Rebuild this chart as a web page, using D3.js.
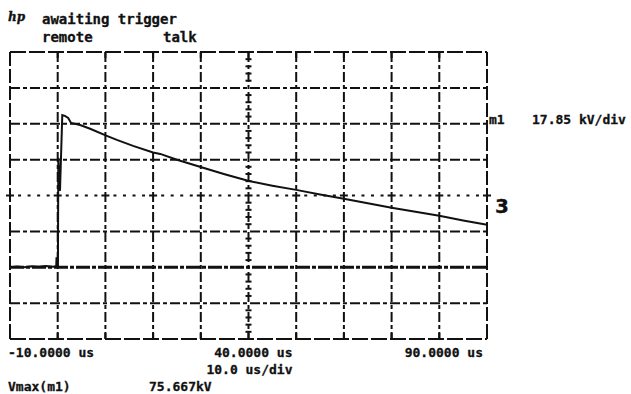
<!DOCTYPE html>
<html lang="en">
<head>
    <meta charset="UTF-8">
    <title>Scope capture</title>
    <script src="https://d3js.org/d3.v7.min.js"></script>
    <style>
        body { margin: 0; background: #fff; }
        svg { display: block; }
        text { font-family: "DejaVu Sans Mono", monospace; font-weight: bold; fill: #111; stroke: #111; stroke-width: 0.3px; }
    </style>
</head>
<body>
    <div id="chart"></div>
    <script>
        // waveform (time in us, voltage in kV)
        const timeUs = [-10, -8.5, -7, -5.5, -4, -2.5, -1, -0.3, -0.25, -0.2, 0.05, 0.13, 0.48, 0.96,
                        1.5, 2.2, 2.8, 4.7, 6.8, 10.3, 12.4, 15.8, 20, 21.5, 25, 29.8, 35, 39.9,
                        45, 50, 55, 60, 65, 70, 75, 80, 85, 90];
        const voltsKV = [0, 0.4, 0, 0.5, 0.2, 0.6, 0.3, 0.5, 5, 1, 1, 54.4, 38, 75.67,
                         75.3, 74.3, 71.8, 70.8, 68.9, 65.4, 63.4, 60.4, 57.1, 56.4, 53.5, 50.0, 46.3, 43.0,
                         40.6, 38.5, 36.2, 34.1, 31.8, 29.6, 27.6, 25.6, 23.3, 21.1];

        const timeTicks = [-10, 40, 90];
        const timeTickLabels = ["-10.0000 us", "40.0000 us", "90.0000 us"];
        const statusLines = ["awaiting trigger", "remote", "talk"];
        const channelLabel = ["m1", "17.85 kV/div"];
        const timebaseLabel = "10.0 us/div";
        const measureLabels = ["Vmax(m1)", "75.667kV"];

        const W = 631, H = 394;
        const voltsPerDiv = 17.85;
        const centerV = 2 * voltsPerDiv;

        const svg = d3.select("#chart").append("svg")
            .attr("width", W).attr("height", H);

        const x = d3.scaleLinear().domain([-10, 90]).range([10, 487]);
        const y = d3.scaleLinear()
            .domain([centerV - 4 * voltsPerDiv, centerV + 4 * voltsPerDiv])
            .range([339, 52]);

        const grid = svg.append("g").attr("stroke", "#111").attr("fill", "none");

        const xDivs = d3.range(-10, 91, 10);
        const yDivs = d3.range(0, 9).map(i => y.domain()[0] + i * voltsPerDiv);

        // vertical divisions
        xDivs.forEach((t, i) => {
            if (t === 40) return;
            grid.append("line")
                .attr("x1", x(t)).attr("x2", x(t))
                .attr("y1", y.range()[1]).attr("y2", y.range()[0])
                .attr("stroke-width", 2)
                .attr("stroke-dasharray", (i === 0 || i === 10) ? "14,3" : "10,3,4,3");
        });

        // horizontal divisions (row 4 is the centre axis, drawn below)
        yDivs.forEach((v, i) => {
            if (i === 4) return;
            const edge = (i === 0 || i === 8);
            grid.append("line")
                .attr("x1", x.range()[0]).attr("x2", x.range()[1])
                .attr("y1", y(v)).attr("y2", y(v))
                .attr("stroke-width", i === 2 ? 3 : 2)
                .attr("stroke-dasharray", edge ? "16,3" : (i === 2 ? "14,2,4,2" : "10,3,4,3"));
        });

        // ticks on top / bottom border
        xDivs.forEach(t => {
            grid.append("line").attr("x1", x(t)).attr("x2", x(t))
                .attr("y1", y.range()[1]).attr("y2", y.range()[1] + 6).attr("stroke-width", 2);
            grid.append("line").attr("x1", x(t)).attr("x2", x(t))
                .attr("y1", y.range()[0] - 6).attr("y2", y.range()[0]).attr("stroke-width", 2);
        });

        // centre vertical axis with cross ticks
        grid.append("line")
            .attr("x1", x(40)).attr("x2", x(40))
            .attr("y1", y.range()[1]).attr("y2", y.range()[0])
            .attr("stroke-width", 2)
            .attr("stroke-dasharray", "10,3,4,3");
        d3.range(0, 41).forEach(k => {
            if (k % 5 === 0) return;
            const v = y.domain()[0] + k * voltsPerDiv / 5;
            grid.append("line")
                .attr("x1", x(40) - 3).attr("x2", x(40) + 3)
                .attr("y1", y(v)).attr("y2", y(v))
                .attr("stroke-width", 2);
        });

        // centre horizontal axis: short dashes every 2 us
        d3.range(-10, 90.1, 2).forEach(t => {
            const full = (t + 10) % 10 === 0;
            grid.append("line")
                .attr("x1", x(t) - (full ? 4 : 1.5)).attr("x2", x(t) + (full ? 4 : 1.5))
                .attr("y1", y(centerV)).attr("y2", y(centerV))
                .attr("stroke-width", 2);
        });

        // trace
        const pts = timeUs.map((t, i) => [t, voltsKV[i]]);
        svg.append("path")
            .datum(pts)
            .attr("fill", "none")
            .attr("stroke", "#111")
            .attr("stroke-width", 2)
            .attr("d", d3.line().x(d => x(d[0])).y(d => y(d[1])));

        // header
        svg.append("text").attr("x", 8).attr("y", 21)
            .style("font-family", "'DejaVu Serif', serif")
            .style("font-style", "italic").style("font-size", "12px")
            .text("hp");
        svg.append("text").attr("x", 42).attr("y", 24).style("font-size", "14px").text(statusLines[0]);
        svg.append("text").attr("x", 42).attr("y", 42).style("font-size", "14px").text(statusLines[1]);
        svg.append("text").attr("x", 163).attr("y", 42).style("font-size", "14px").text(statusLines[2]);

        // channel label + marker
        svg.append("text").attr("x", 489).attr("y", 124).style("font-size", "13px").text(channelLabel[0]);
        svg.append("text").attr("x", 532).attr("y", 124).style("font-size", "13px").text(channelLabel[1]);
        svg.append("text").attr("x", 495).attr("y", 213)
            .style("font-family", "'DejaVu Sans', sans-serif")
            .style("font-size", "20px").text("3");

        // time labels
        svg.selectAll(".tlabel")
            .data(timeTicks)
            .enter().append("text")
            .attr("class", "tlabel")
            .attr("x", (d, i) => i === 0 ? x(d) - 2 : (i === 1 ? x(d) + 44 : x(d) - 4))
            .attr("y", 357)
            .attr("text-anchor", (d, i) => i === 0 ? "start" : "end")
            .style("font-size", "13px")
            .text((d, i) => timeTickLabels[i]);

        svg.append("text").attr("x", x(40) + 44).attr("y", 374)
            .attr("text-anchor", "end").style("font-size", "13px").text(timebaseLabel);

        svg.append("text").attr("x", 8).attr("y", 391).style("font-size", "13px").text(measureLabels[0]);
        svg.append("text").attr("x", 149).attr("y", 391).style("font-size", "13px").text(measureLabels[1]);
    </script>
</body>
</html>
